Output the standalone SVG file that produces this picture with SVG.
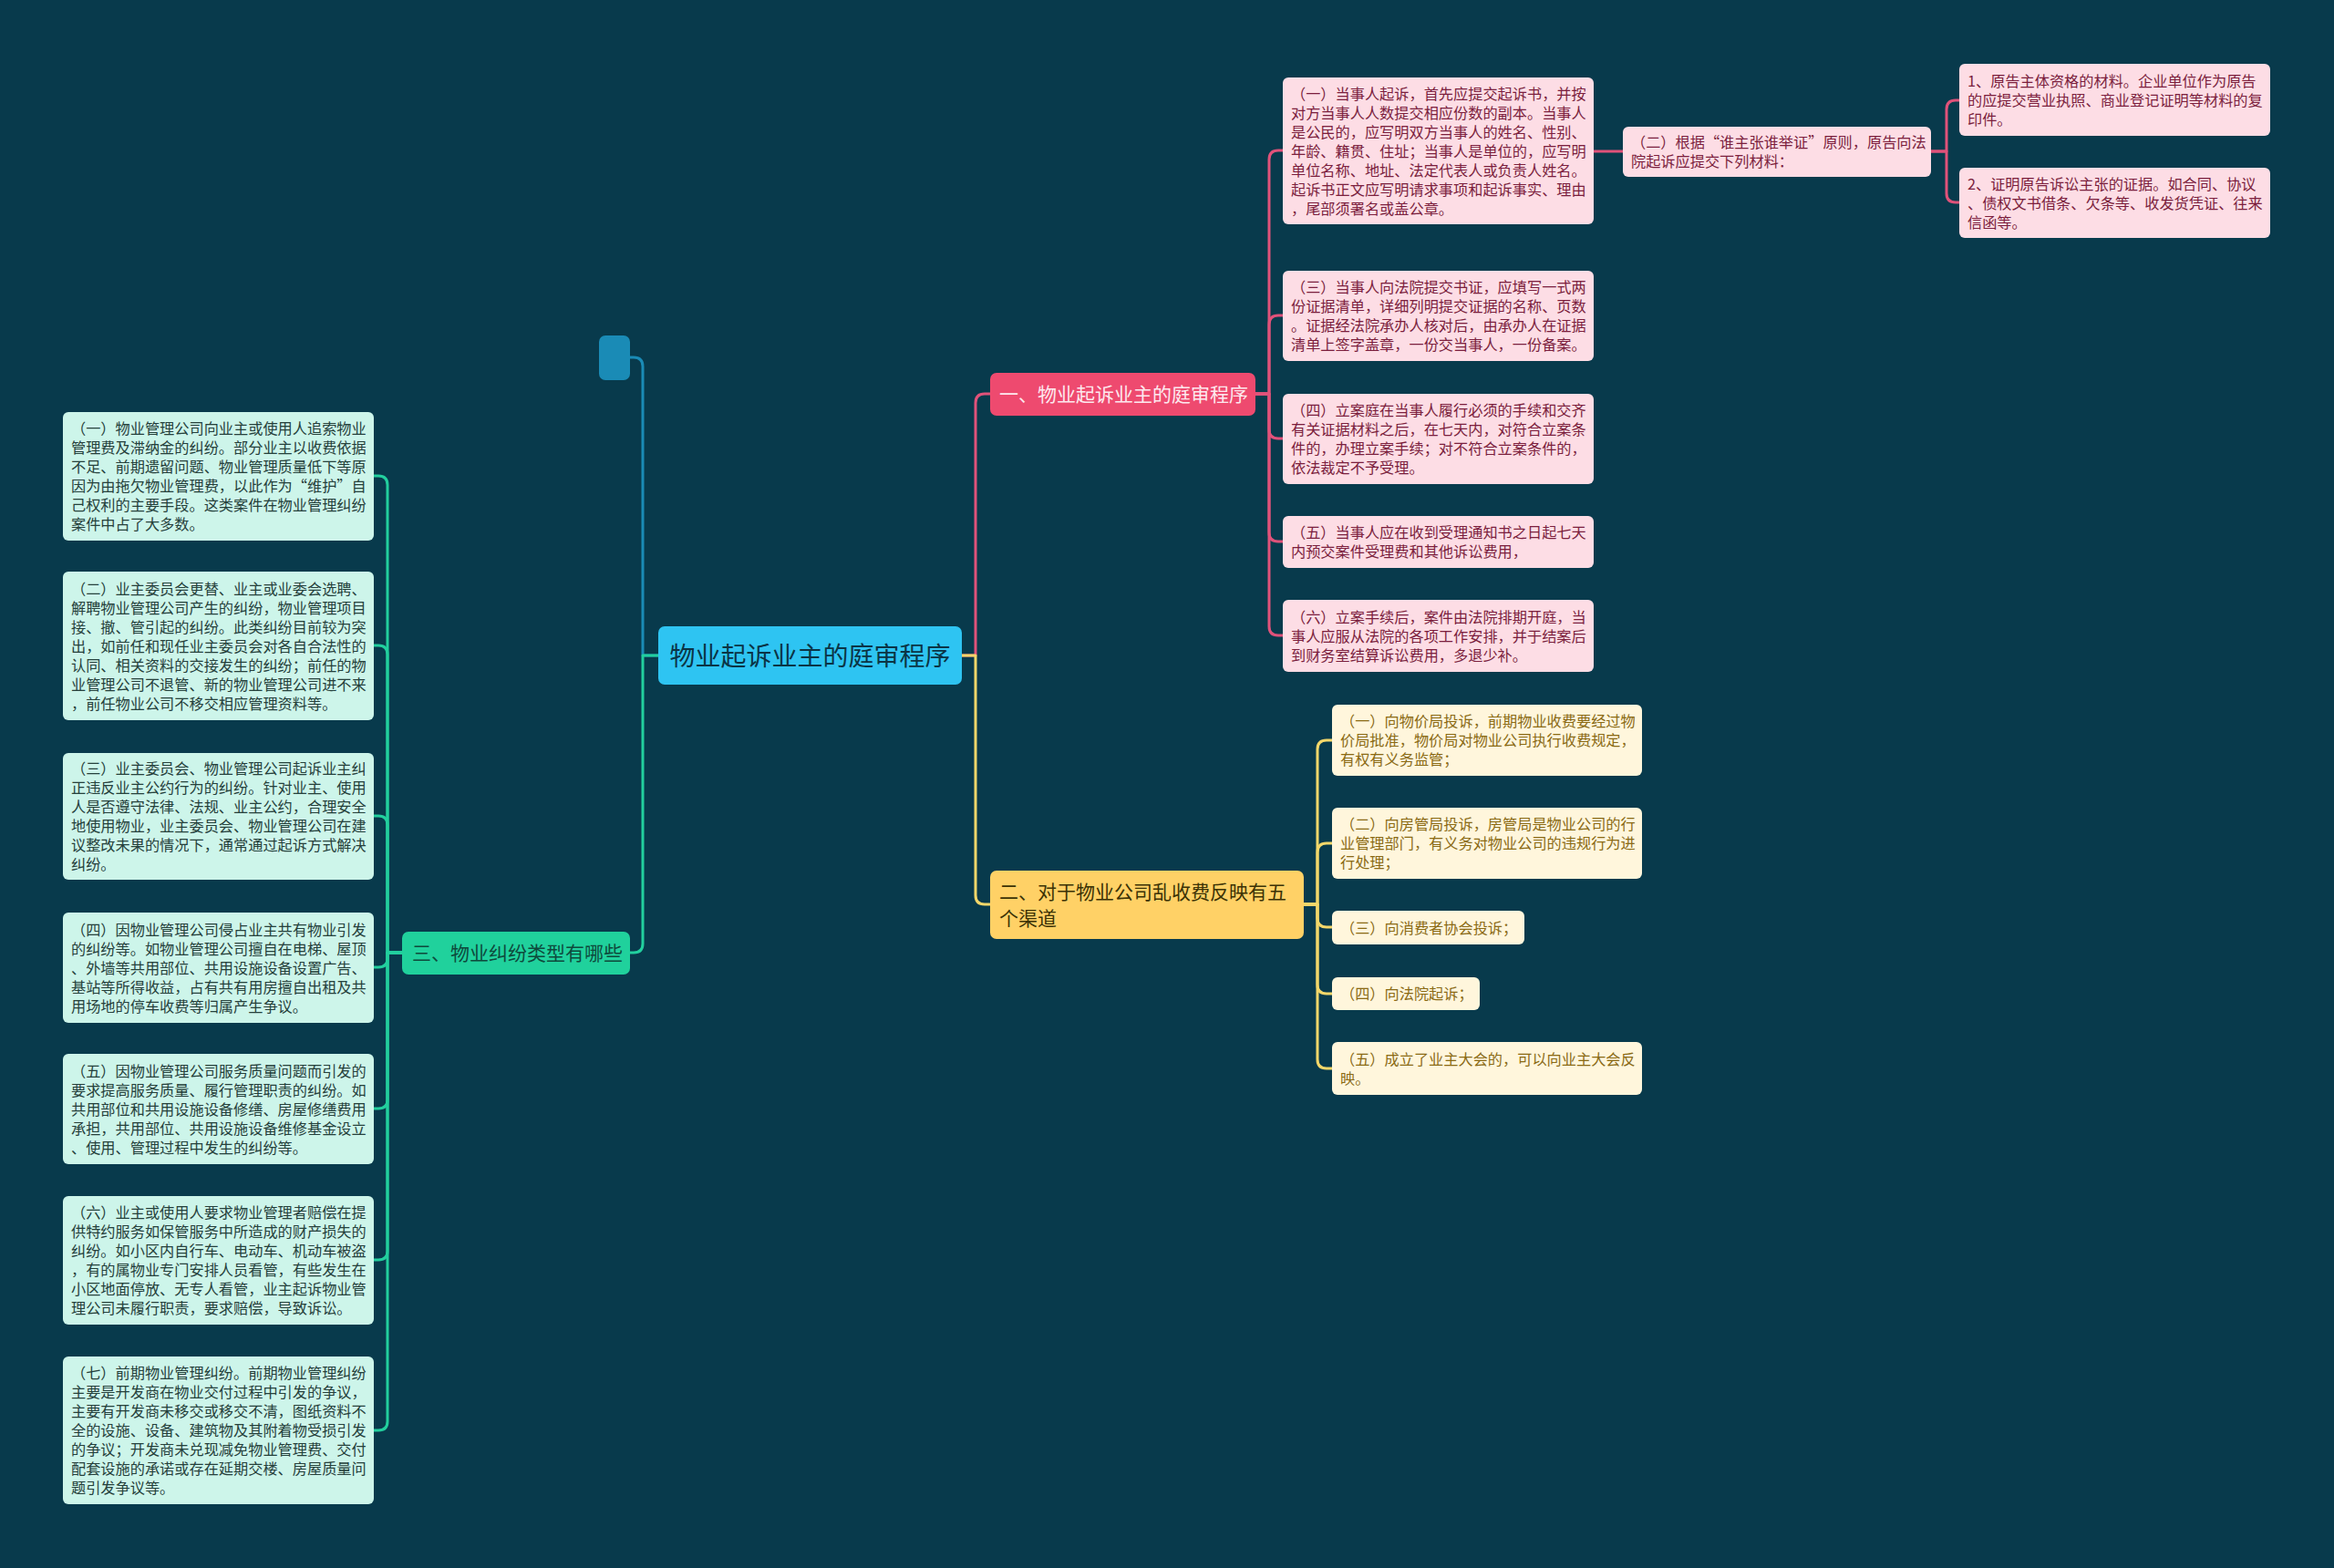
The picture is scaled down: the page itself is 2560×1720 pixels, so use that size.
<svg xmlns="http://www.w3.org/2000/svg" width="2560" height="1720" viewBox="0 0 2560 1720">
<style>
text{font-family:"Noto Sans CJK SC","Noto Sans",sans-serif;}
.ln{fill:none;stroke-width:3;stroke-linejoin:round;stroke-linecap:round;}
.lp{stroke:#e0527a;}
.ly{stroke:#f3d76a;}
.lb{stroke:#1a8bb6;}
.lg{stroke:#22cf9e;}
.leaf{font-size:16.2px;}
.mint rect{fill:#cdf5ea;}
.mint text{fill:#25403b;}
.pink rect{fill:#fddde5;}
.pink text{fill:#7b1e3d;}
.yel rect{fill:#fff6dc;}
.yel text{fill:#8a6a14;}
.br{font-size:21px;}
</style>
<rect x="0" y="0" width="2560" height="1720" fill="#083a4c"/>

<g id="connectors">
<path class="ln lp" d="M1055,719 H1070 V442 Q1070,432 1080,432 H1086"/>
<path class="ln ly" d="M1055,719 H1070 V982 Q1070,992 1080,992 H1086"/>
<path class="ln lb" d="M722,719 H705 V402 Q705,392 695,392 H691"/>
<path class="ln lg" d="M722,719 H705 V1035 Q705,1045 695,1045 H691"/>

<path class="ln lp" d="M1376,432 H1392 V175 Q1392,165 1402,165 H1407"/>
<path class="ln lp" d="M1376,432 H1392 V356 Q1392,346 1402,346 H1407"/>
<path class="ln lp" d="M1376,432 H1392 V471 Q1392,481 1402,481 H1407"/>
<path class="ln lp" d="M1376,432 H1392 V584 Q1392,594 1402,594 H1407"/>
<path class="ln lp" d="M1376,432 H1392 V687 Q1392,697 1402,697 H1407"/>
<path class="ln lp" d="M1748,166 H1780"/>
<path class="ln lp" d="M2118,166 H2135 V120 Q2135,110 2145,110 H2149"/>
<path class="ln lp" d="M2118,166 H2135 V212 Q2135,222 2145,222 H2149"/>

<path class="ln ly" d="M1430,992 H1445 V822 Q1445,812 1455,812 H1461"/>
<path class="ln ly" d="M1430,992 H1445 V935 Q1445,925 1455,925 H1461"/>
<path class="ln ly" d="M1430,992 H1445 V1007 Q1445,1017 1455,1017 H1461"/>
<path class="ln ly" d="M1430,992 H1445 V1080 Q1445,1090 1455,1090 H1461"/>
<path class="ln ly" d="M1430,992 H1445 V1162 Q1445,1172 1455,1172 H1461"/>

<path class="ln lg" d="M441,1045 H425 V532 Q425,522 415,522 H410"/>
<path class="ln lg" d="M441,1045 H425 V718 Q425,708 415,708 H410"/>
<path class="ln lg" d="M441,1045 H425 V905 Q425,895 415,895 H410"/>
<path class="ln lg" d="M441,1045 H425 V1051 Q425,1061 415,1061 H410"/>
<path class="ln lg" d="M441,1045 H425 V1206 Q425,1216 415,1216 H410"/>
<path class="ln lg" d="M441,1045 H425 V1372 Q425,1382 415,1382 H410"/>
<path class="ln lg" d="M441,1045 H425 V1559 Q425,1569 415,1569 H410"/>
</g>

<g id="root">
<rect x="722" y="687" width="333" height="64" rx="7" fill="#2ec4f2"/>
<text x="888.5" y="729.5" font-size="28" fill="#0b3445" text-anchor="middle">物业起诉业主的庭审程序</text>
</g>

<g id="blank-node">
<rect x="657" y="368" width="34" height="49" rx="7" fill="#1a8bb6"/>
</g>

<g id="branch1">
<rect x="1086" y="409" width="291" height="47" rx="7" fill="#ee4a6f"/>
<text class="br" x="1096" y="440" fill="#fde8ee">一、物业起诉业主的庭审程序</text>
</g>

<g id="branch2">
<rect x="1086" y="955" width="344" height="75" rx="7" fill="#ffd166"/>
<text class="br" x="1096" y="986" fill="#3b3205">二、对于物业公司乱收费反映有五<tspan x="1096" dy="29">个渠道</tspan></text>
</g>

<g id="branch3">
<rect x="441" y="1022" width="250" height="47" rx="7" fill="#20d19c"/>
<text class="br" x="452" y="1053" fill="#0e4a3c">三、物业纠纷类型有哪些</text>
</g>

<g id="p1" class="pink">
<rect x="1407" y="85" width="341" height="161" rx="6"/>
<text class="leaf" x="1416" y="108.5">（一）当事人起诉，首先应提交起诉书，并按<tspan x="1416" dy="21">对方当事人人数提交相应份数的副本。当事人</tspan><tspan x="1416" dy="21">是公民的，应写明双方当事人的姓名、性别、</tspan><tspan x="1416" dy="21">年龄、籍贯、住址；当事人是单位的，应写明</tspan><tspan x="1416" dy="21">单位名称、地址、法定代表人或负责人姓名。</tspan><tspan x="1416" dy="21">起诉书正文应写明请求事项和起诉事实、理由</tspan><tspan x="1416" dy="21">，尾部须署名或盖公章。</tspan></text>
</g>

<g id="p2" class="pink">
<rect x="1780" y="139" width="338" height="55" rx="6"/>
<text class="leaf" x="1789" y="162">（二）根据“谁主张谁举证”原则，原告向法<tspan x="1789" dy="21">院起诉应提交下列材料：</tspan></text>
</g>

<g id="r1" class="pink">
<rect x="2149" y="70" width="341" height="79" rx="6"/>
<text class="leaf" x="2158" y="94.5">1、原告主体资格的材料。企业单位作为原告<tspan x="2158" dy="21">的应提交营业执照、商业登记证明等材料的复</tspan><tspan x="2158" dy="21">印件。</tspan></text>
</g>

<g id="r2" class="pink">
<rect x="2149" y="184" width="341" height="77" rx="6"/>
<text class="leaf" x="2158" y="207.5">2、证明原告诉讼主张的证据。如合同、协议<tspan x="2158" dy="21">、债权文书借条、欠条等、收发货凭证、往来</tspan><tspan x="2158" dy="21">信函等。</tspan></text>
</g>

<g id="p3" class="pink">
<rect x="1407" y="297" width="341" height="99" rx="6"/>
<text class="leaf" x="1416" y="321">（三）当事人向法院提交书证，应填写一式两<tspan x="1416" dy="21">份证据清单，详细列明提交证据的名称、页数</tspan><tspan x="1416" dy="21">。证据经法院承办人核对后，由承办人在证据</tspan><tspan x="1416" dy="21">清单上签字盖章，一份交当事人，一份备案。</tspan></text>
</g>

<g id="p4" class="pink">
<rect x="1407" y="432" width="341" height="99" rx="6"/>
<text class="leaf" x="1416" y="456">（四）立案庭在当事人履行必须的手续和交齐<tspan x="1416" dy="21">有关证据材料之后，在七天内，对符合立案条</tspan><tspan x="1416" dy="21">件的，办理立案手续；对不符合立案条件的，</tspan><tspan x="1416" dy="21">依法裁定不予受理。</tspan></text>
</g>

<g id="p5" class="pink">
<rect x="1407" y="566" width="341" height="57" rx="6"/>
<text class="leaf" x="1416" y="590">（五）当事人应在收到受理通知书之日起七天<tspan x="1416" dy="21">内预交案件受理费和其他诉讼费用，</tspan></text>
</g>

<g id="p6" class="pink">
<rect x="1407" y="658" width="341" height="79" rx="6"/>
<text class="leaf" x="1416" y="682.5">（六）立案手续后，案件由法院排期开庭，当<tspan x="1416" dy="21">事人应服从法院的各项工作安排，并于结案后</tspan><tspan x="1416" dy="21">到财务室结算诉讼费用，多退少补。</tspan></text>
</g>

<g id="y1" class="yel">
<rect x="1461" y="773" width="340" height="78" rx="6"/>
<text class="leaf" x="1470" y="797">（一）向物价局投诉，前期物业收费要经过物<tspan x="1470" dy="21">价局批准，物价局对物业公司执行收费规定，</tspan><tspan x="1470" dy="21">有权有义务监管；</tspan></text>
</g>

<g id="y2" class="yel">
<rect x="1461" y="886" width="340" height="78" rx="6"/>
<text class="leaf" x="1470" y="910">（二）向房管局投诉，房管局是物业公司的行<tspan x="1470" dy="21">业管理部门，有义务对物业公司的违规行为进</tspan><tspan x="1470" dy="21">行处理；</tspan></text>
</g>

<g id="y3" class="yel">
<rect x="1461" y="999" width="211" height="37" rx="6"/>
<text class="leaf" x="1470" y="1023.5">（三）向消费者协会投诉；</text>
</g>

<g id="y4" class="yel">
<rect x="1461" y="1072" width="162" height="36" rx="6"/>
<text class="leaf" x="1470" y="1096">（四）向法院起诉；</text>
</g>

<g id="y5" class="yel">
<rect x="1461" y="1143" width="340" height="58" rx="6"/>
<text class="leaf" x="1470" y="1167.5">（五）成立了业主大会的，可以向业主大会反<tspan x="1470" dy="21">映。</tspan></text>
</g>

<g id="l1" class="mint">
<rect x="69" y="452" width="341" height="141" rx="6"/>
<text class="leaf" x="78" y="476">（一）物业管理公司向业主或使用人追索物业<tspan x="78" dy="21">管理费及滞纳金的纠纷。部分业主以收费依据</tspan><tspan x="78" dy="21">不足、前期遗留问题、物业管理质量低下等原</tspan><tspan x="78" dy="21">因为由拖欠物业管理费，以此作为“维护”自</tspan><tspan x="78" dy="21">己权利的主要手段。这类案件在物业管理纠纷</tspan><tspan x="78" dy="21">案件中占了大多数。</tspan></text>
</g>

<g id="l2" class="mint">
<rect x="69" y="627" width="341" height="163" rx="6"/>
<text class="leaf" x="78" y="651.5">（二）业主委员会更替、业主或业委会选聘、<tspan x="78" dy="21">解聘物业管理公司产生的纠纷，物业管理项目</tspan><tspan x="78" dy="21">接、撤、管引起的纠纷。此类纠纷目前较为突</tspan><tspan x="78" dy="21">出，如前任和现任业主委员会对各自合法性的</tspan><tspan x="78" dy="21">认同、相关资料的交接发生的纠纷；前任的物</tspan><tspan x="78" dy="21">业管理公司不退管、新的物业管理公司进不来</tspan><tspan x="78" dy="21">，前任物业公司不移交相应管理资料等。</tspan></text>
</g>

<g id="l3" class="mint">
<rect x="69" y="826" width="341" height="139" rx="6"/>
<text class="leaf" x="78" y="849">（三）业主委员会、物业管理公司起诉业主纠<tspan x="78" dy="21">正违反业主公约行为的纠纷。针对业主、使用</tspan><tspan x="78" dy="21">人是否遵守法律、法规、业主公约，合理安全</tspan><tspan x="78" dy="21">地使用物业，业主委员会、物业管理公司在建</tspan><tspan x="78" dy="21">议整改未果的情况下，通常通过起诉方式解决</tspan><tspan x="78" dy="21">纠纷。</tspan></text>
</g>

<g id="l4" class="mint">
<rect x="69" y="1001" width="341" height="121" rx="6"/>
<text class="leaf" x="78" y="1025.5">（四）因物业管理公司侵占业主共有物业引发<tspan x="78" dy="21">的纠纷等。如物业管理公司擅自在电梯、屋顶</tspan><tspan x="78" dy="21">、外墙等共用部位、共用设施设备设置广告、</tspan><tspan x="78" dy="21">基站等所得收益，占有共有用房擅自出租及共</tspan><tspan x="78" dy="21">用场地的停车收费等归属产生争议。</tspan></text>
</g>

<g id="l5" class="mint">
<rect x="69" y="1156" width="341" height="121" rx="6"/>
<text class="leaf" x="78" y="1180.5">（五）因物业管理公司服务质量问题而引发的<tspan x="78" dy="21">要求提高服务质量、履行管理职责的纠纷。如</tspan><tspan x="78" dy="21">共用部位和共用设施设备修缮、房屋修缮费用</tspan><tspan x="78" dy="21">承担，共用部位、共用设施设备维修基金设立</tspan><tspan x="78" dy="21">、使用、管理过程中发生的纠纷等。</tspan></text>
</g>

<g id="l6" class="mint">
<rect x="69" y="1312" width="341" height="141" rx="6"/>
<text class="leaf" x="78" y="1336">（六）业主或使用人要求物业管理者赔偿在提<tspan x="78" dy="21">供特约服务如保管服务中所造成的财产损失的</tspan><tspan x="78" dy="21">纠纷。如小区内自行车、电动车、机动车被盗</tspan><tspan x="78" dy="21">，有的属物业专门安排人员看管，有些发生在</tspan><tspan x="78" dy="21">小区地面停放、无专人看管，业主起诉物业管</tspan><tspan x="78" dy="21">理公司未履行职责，要求赔偿，导致诉讼。</tspan></text>
</g>

<g id="l7" class="mint">
<rect x="69" y="1488" width="341" height="162" rx="6"/>
<text class="leaf" x="78" y="1512">（七）前期物业管理纠纷。前期物业管理纠纷<tspan x="78" dy="21">主要是开发商在物业交付过程中引发的争议，</tspan><tspan x="78" dy="21">主要有开发商未移交或移交不清，图纸资料不</tspan><tspan x="78" dy="21">全的设施、设备、建筑物及其附着物受损引发</tspan><tspan x="78" dy="21">的争议；开发商未兑现减免物业管理费、交付</tspan><tspan x="78" dy="21">配套设施的承诺或存在延期交楼、房屋质量问</tspan><tspan x="78" dy="21">题引发争议等。</tspan></text>
</g>
</svg>
